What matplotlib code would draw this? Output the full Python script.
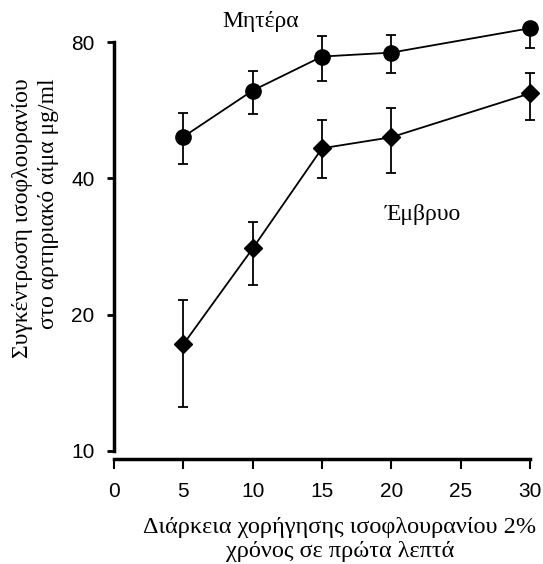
import matplotlib
matplotlib.use("Agg")
import matplotlib.pyplot as plt
from matplotlib.ticker import FixedLocator, NullLocator, FixedFormatter


# data (y is on a log2 scale)
minutes = [5, 10, 15, 20, 30]

mother = [49.4, 62.5, 74.3, 75.8, 85.8]
mother_hi = [55.8, 69.0, 82.5, 82.9, 87.9]
mother_lo = [43.0, 55.4, 65.6, 68.3, 77.7]

fetus = [17.2, 28.0, 46.6, 49.3, 61.6]
fetus_hi = [21.5, 32.0, 53.8, 57.3, 68.4]
fetus_lo = [12.5, 23.3, 40.0, 41.2, 53.7]

y_ticks = [10, 20, 40, 80]
x_ticks = [0, 5, 10, 15, 20, 25, 30]

SERIF = "Liberation Serif"
SANS = "Liberation Sans"

plt.rcParams["font.family"] = SANS


def err(vals, lo, hi):
    return [[v - l for v, l in zip(vals, lo)], [h - v for v, h in zip(vals, hi)]]


fig = plt.figure(figsize=(5.43, 5.64), dpi=100)
ax = fig.add_axes([114 / 543, 1 - 451 / 564, (530 - 114) / 543, (451 - 42) / 564])

ax.set_yscale("log", base=2)
ax.set_xlim(0, 30)
ax.set_ylim(10, 80)

for vals, lo, hi, mk, ms in [(mother, mother_lo, mother_hi, "o", 11),
                             (fetus, fetus_lo, fetus_hi, "D", 9.5)]:
    ax.errorbar(minutes, vals, yerr=err(vals, lo, hi), fmt="-", marker=mk,
                color="black", ms=ms, lw=1.3, elinewidth=1.3, capsize=3.6,
                capthick=1.3, clip_on=False, zorder=3)

ax.yaxis.set_major_locator(FixedLocator(y_ticks))
ax.yaxis.set_major_formatter(FixedFormatter([str(t) for t in y_ticks]))
ax.yaxis.set_minor_locator(NullLocator())
ax.set_xticks(x_ticks)

ax.tick_params(axis="both", labelsize=15)
ax.tick_params(axis="y", direction="out", length=5, width=2, pad=9)
ax.tick_params(axis="x", direction="out", length=7, width=1.5, pad=9)

ax.spines["top"].set_visible(False)
ax.spines["right"].set_visible(False)
ax.spines["left"].set_linewidth(2.5)
ax.spines["bottom"].set_linewidth(2.5)
ax.spines["bottom"].set_position(("outward", 6))

ax.text(10.6, 80 * 2 ** (21 / 136.5), "Μητέρα", fontfamily=SERIF, fontsize=17,
        ha="center", va="center")
ax.text(22.3, 80 / 2 ** (173 / 136.5), "Έμβρυο", fontfamily=SERIF, fontsize=17,
        ha="center", va="center")

fig.text(340 / 543, 1 - 527 / 564, "Διάρκεια χορήγησης ισοφλουρανίου 2%",
         fontfamily=SERIF, fontsize=17.5, ha="center", va="center")
fig.text(340 / 543, 1 - 551 / 564, "χρόνος σε πρώτα λεπτά",
         fontfamily=SERIF, fontsize=17.5, ha="center", va="center")

fig.text(23 / 543, 1 - 78 / 564, "Συγκέντρωση ισοφλουρανίου",
         fontfamily=SERIF, fontsize=17, rotation=90, ha="center", va="top")
fig.text(49 / 543, 1 - 78 / 564, "στο αρτηριακό αίμα μg/ml",
         fontfamily=SERIF, fontsize=17, rotation=90, ha="center", va="top")

fig.savefig("out.png", dpi=100)
